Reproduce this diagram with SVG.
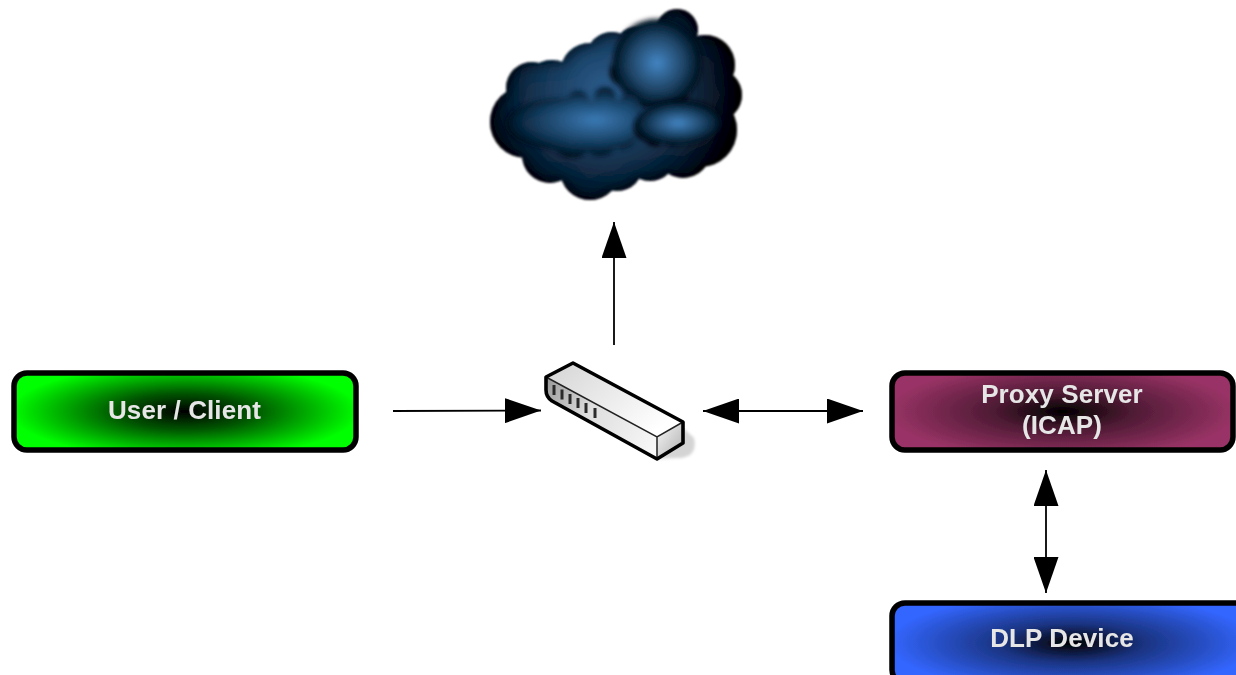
<svg xmlns="http://www.w3.org/2000/svg" width="1236" height="675" viewBox="0 0 1236 675">
<style>
.box{stroke:#000;stroke-width:5.500}
.lbl{font-family:"Liberation Sans",Arial,sans-serif;font-weight:bold;font-size:26px;fill:#e6e6e6;text-anchor:middle;letter-spacing:.1px}
.conn{stroke:#000;stroke-width:1.8;fill:none}
.edge{stroke:#000;stroke-width:3.600;stroke-linejoin:round;fill:none}
.inl{stroke:#222;stroke-width:1.500;fill:none}
</style>
<defs>
<radialGradient id="gGreen" cx="0" cy="0" r="1" gradientTransform="translate(.5 .5) scale(.6 .72)"><stop offset="0" stop-color="#000"/><stop offset=".33" stop-color="#005500"/><stop offset=".85" stop-color="#00ff00"/></radialGradient>
<radialGradient id="gPlum" cx="0" cy="0" r="1" gradientTransform="translate(.5 .5) scale(.6 .72)"><stop offset="0" stop-color="#000"/><stop offset=".33" stop-color="#4d1a33"/><stop offset=".85" stop-color="#993366"/></radialGradient>
<radialGradient id="gBlue" cx="0" cy="0" r="1" gradientTransform="translate(.5 .5) scale(.6 .72)"><stop offset="0" stop-color="#000"/><stop offset=".33" stop-color="#1a3380"/><stop offset=".85" stop-color="#3366ff"/></radialGradient>
<radialGradient id="cBase" gradientUnits="userSpaceOnUse" cx="605" cy="90" r="135"><stop offset="0" stop-color="#2b5c8c"/><stop offset=".5" stop-color="#173553"/><stop offset="1" stop-color="#03070d"/></radialGradient>
<radialGradient id="cA" gradientUnits="userSpaceOnUse" cx="657" cy="63" r="48"><stop offset="0" stop-color="#4386c4"/><stop offset=".6" stop-color="#1d4060"/><stop offset="1" stop-color="#050c15"/></radialGradient>
<radialGradient id="cB" gradientUnits="userSpaceOnUse" gradientTransform="translate(595 120) scale(1 .42)" cx="0" cy="0" r="100"><stop offset="0" stop-color="#3a7ab5"/><stop offset=".6" stop-color="#173a5a"/><stop offset="1" stop-color="#050c15"/></radialGradient>
<radialGradient id="cC" gradientUnits="userSpaceOnUse" gradientTransform="translate(678 123) scale(1 .5)" cx="0" cy="0" r="48"><stop offset="0" stop-color="#4386c4"/><stop offset=".6" stop-color="#1b3d5c"/><stop offset="1" stop-color="#050c15"/></radialGradient>
<linearGradient id="top" x1="0" y1="0" x2="1" y2=".6"><stop offset="0" stop-color="#d4d4d4"/><stop offset="1" stop-color="#ffffff"/></linearGradient>
<linearGradient id="front" gradientUnits="userSpaceOnUse" x1="546" y1="380" x2="657" y2="450"><stop offset="0" stop-color="#9a9a9a"/><stop offset=".4" stop-color="#dedede"/><stop offset="1" stop-color="#f8f8f8"/></linearGradient>
<linearGradient id="end" x1="0" y1="0" x2="1" y2="1"><stop offset="0" stop-color="#f8f8f8"/><stop offset="1" stop-color="#aeaeae"/></linearGradient>
<filter id="inner" x="-10%" y="-10%" width="120%" height="120%">
<feMorphology in="SourceAlpha" operator="erode" radius="3" result="e"/>
<feGaussianBlur in="e" stdDeviation="7" result="b"/>
<feFlood flood-color="#000"/>
<feComposite in2="b" operator="out" result="s"/>
<feComposite in="s" in2="SourceAlpha" operator="in" result="s2"/>
<feMerge result="m"><feMergeNode in="SourceGraphic"/><feMergeNode in="s2"/></feMerge>
<feGaussianBlur in="m" stdDeviation="1.200"/>
</filter>
<filter id="inner2" x="-30%" y="-30%" width="160%" height="160%">
<feGaussianBlur in="SourceAlpha" stdDeviation="6" result="b"/>
<feFlood flood-color="#000"/>
<feComposite in2="b" operator="out" result="s"/>
<feComposite in="s" in2="SourceAlpha" operator="in" result="s2"/>
<feMerge result="m"><feMergeNode in="SourceGraphic"/><feMergeNode in="s2"/></feMerge>
<feGaussianBlur in="m" stdDeviation="2.500"/>
</filter>
<filter id="soft" x="-20%" y="-20%" width="140%" height="140%"><feGaussianBlur stdDeviation=".7"/></filter>
<filter id="softer" x="-20%" y="-20%" width="140%" height="140%"><feGaussianBlur stdDeviation="1.500"/></filter>
<marker id="arr" markerUnits="userSpaceOnUse" markerWidth="37" markerHeight="25" refX="36" refY="12.5" orient="auto-start-reverse"><path d="M0 0L36 12.5L0 25Z" fill="#000"/></marker>
</defs>

<g id="cloud">
<g filter="url(#inner)" fill="url(#cBase)">
<circle cx="526" cy="122" r="36"/><circle cx="532" cy="88" r="26"/><circle cx="552" cy="90" r="30"/><circle cx="590" cy="73" r="30"/>
<circle cx="612" cy="58" r="26"/><circle cx="636" cy="48" r="21"/><circle cx="677" cy="30" r="21"/><circle cx="705" cy="65" r="30"/>
<circle cx="716" cy="95" r="26"/><circle cx="700" cy="130" r="37"/><circle cx="683" cy="150" r="28"/><circle cx="650" cy="155" r="26"/>
<circle cx="617" cy="165" r="26"/><circle cx="590" cy="170" r="30"/><circle cx="550" cy="155" r="28"/><circle cx="600" cy="120" r="50"/><circle cx="650" cy="100" r="50"/><circle cx="560" cy="120" r="40"/>
</g>
<g filter="url(#inner2)" fill="url(#cA)">
<circle cx="657" cy="63" r="44"/><circle cx="624" cy="72" r="14"/><circle cx="648" cy="92" r="16"/><circle cx="675" cy="92" r="14"/>
</g>
<g filter="url(#inner2)" fill="url(#cB)">
<ellipse cx="565" cy="124" rx="60" ry="26"/><ellipse cx="612" cy="122" rx="34" ry="22"/><circle cx="578" cy="102" r="11"/><circle cx="605" cy="98" r="11"/><circle cx="630" cy="102" r="10"/><circle cx="572" cy="138" r="20"/><circle cx="600" cy="138" r="18"/><circle cx="622" cy="135" r="14"/>
</g>
<g filter="url(#inner2)" fill="url(#cC)">
<ellipse cx="680" cy="122" rx="42" ry="22"/><circle cx="648" cy="127" r="14"/><circle cx="655" cy="135" r="11"/><circle cx="672" cy="135" r="11"/>
</g>
</g>

<g id="connectors">
<line class="conn" x1="614" y1="345" x2="614" y2="222" marker-end="url(#arr)"/>
<line class="conn" x1="393" y1="411" x2="541" y2="410.500" marker-end="url(#arr)"/>
<line class="conn" x1="703" y1="411" x2="863" y2="411" marker-start="url(#arr)" marker-end="url(#arr)"/>
<line class="conn" x1="1046" y1="470" x2="1046" y2="593" marker-start="url(#arr)" marker-end="url(#arr)"/>
</g>

<g id="switch">
<path d="M683 428L694 438C697 452 690 458 678 458L657 459Z" fill="#d4d4d4" filter="url(#softer)"/>
<g filter="url(#soft)">
<path d="M546 377L573 363L683 422L657 437Z" fill="url(#top)"/>
<path d="M546 377L657 437L657 459L552 401Q546 397 546 390Z" fill="url(#front)"/>
<path d="M657 437L683 422L683 443L657 459Z" fill="url(#end)"/>
<path class="inl" d="M546 377L657 437L683 422M657 437V459"/>
<path class="edge" d="M546 377L573 363L683 422V443L657 459L552 401Q546 397 546 390Z"/>
<path d="M554 385v10M562 389.500v10M570 394v10M578 398v10M586 403v10M595 408v10" stroke="#2b2b2b" stroke-width="3" fill="none"/>
</g>
</g>

<g id="user-client">
<rect class="box" x="14" y="373" width="342" height="77" rx="13" fill="url(#gGreen)" filter="url(#soft)"/>
<text class="lbl" x="184.500" y="419" filter="url(#soft)">User / Client</text>
</g>

<g id="proxy-server">
<rect class="box" x="892" y="373" width="341" height="77" rx="13" fill="url(#gPlum)" filter="url(#soft)"/>
<text class="lbl" x="1062" y="403" filter="url(#soft)">Proxy Server</text>
<text class="lbl" x="1062" y="434" filter="url(#soft)">(ICAP)</text>
</g>

<g id="dlp-device">
<rect class="box" x="892" y="603" width="360" height="80" rx="13" fill="url(#gBlue)" filter="url(#soft)"/>
<text class="lbl" x="1062" y="647" filter="url(#soft)">DLP Device</text>
</g>
</svg>
